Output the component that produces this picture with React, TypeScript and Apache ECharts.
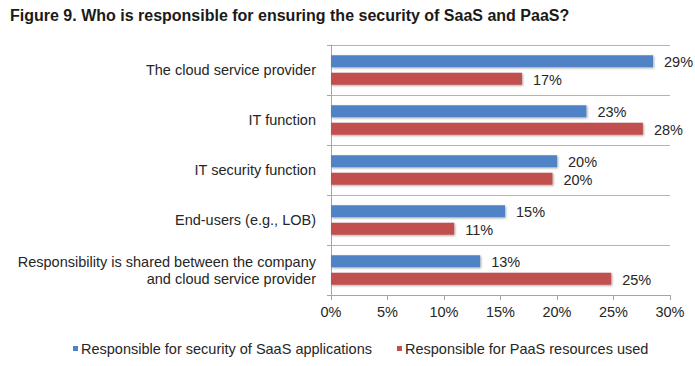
import React, { useEffect, useRef } from "react";
import * as echarts from "echarts";

const titleText = "Figure 9. Who is responsible for ensuring the security of SaaS and PaaS?";
const categories = [
  "The cloud service provider",
  "IT function",
  "IT security function",
  "End-users (e.g., LOB)",
  "Responsibility is shared between the company\nand cloud service provider",
];
const seriesNames = [
  "Responsible for security of SaaS applications",
  "Responsible for PaaS resources used",
];
const saasValues = [28.5, 22.6, 20.0, 15.4, 13.2];
const paasValues = [16.9, 27.6, 19.6, 10.9, 24.8];
const xTicks = { min: 0, max: 30, interval: 5 };

const FONT = "Liberation Sans, Arial, sans-serif";

export default function App() {
  const ref = useRef<HTMLDivElement>(null);
  useEffect(() => {
    if (!ref.current) return;
    const chart = echarts.init(ref.current, undefined, { renderer: "svg" });
    const barShadow = {
      shadowColor: "rgba(0,0,0,0.35)",
      shadowBlur: 2,
      shadowOffsetX: 1,
      shadowOffsetY: 1,
    };
    const label = {
      show: true,
      position: "right" as const,
      distance: 11,
      offset: [0, 1],
      color: "#262626",
      fontSize: 14.5,
      fontFamily: FONT,
      formatter: (p: any) => Math.round(p.value) + "%",
    };
    chart.setOption({
      animation: false,
      backgroundColor: "#ffffff",
      title: {
        text: titleText,
        left: 5,
        top: 2,
        textStyle: { fontSize: 16, fontWeight: "bold", color: "#1a1a1a", fontFamily: FONT },
      },
      legend: {
        left: 68,
        top: 336,
        icon: "rect",
        itemWidth: 5,
        itemHeight: 5,
        itemGap: 25,
        textStyle: { fontSize: 14.5, color: "#262626", fontFamily: FONT, padding: [0, 0, 0, -2] },
        data: seriesNames,
      },
      grid: { left: 331, right: 25, top: 45, bottom: 71, containLabel: false },
      xAxis: {
        type: "value",
        min: xTicks.min,
        max: xTicks.max,
        interval: xTicks.interval,
        axisLine: { show: true, lineStyle: { color: "#a6a6a6" } },
        axisTick: { show: true, length: 5, lineStyle: { color: "#a6a6a6" } },
        splitLine: { show: false },
        axisLabel: {
          formatter: "{value}%",
          fontSize: 14.5,
          color: "#262626",
          fontFamily: FONT,
          margin: 9,
        },
      },
      yAxis: {
        type: "category",
        inverse: true,
        data: categories,
        axisLine: { show: true, lineStyle: { color: "#a6a6a6" } },
        axisTick: { show: true, length: 4, lineStyle: { color: "#a6a6a6" } },
        splitLine: { show: true, lineStyle: { color: "#b3b3b3" } },
        axisLabel: {
          fontSize: 14.5,
          color: "#262626",
          fontFamily: FONT,
          margin: 15,
          lineHeight: 17,
          align: "right",
        },
      },
      series: [
        {
          name: seriesNames[0],
          type: "bar",
          data: saasValues,
          barWidth: 12,
          barGap: "45%",
          itemStyle: { color: "#4F83C6", ...barShadow },
          label,
        },
        {
          name: seriesNames[1],
          type: "bar",
          data: paasValues,
          barWidth: 12,
          itemStyle: { color: "#C0504D", ...barShadow },
          label,
        },
      ],
    });
    return () => chart.dispose();
  }, []);
  return <div ref={ref} style={{ width: 695, height: 366, position: "absolute", left: 0, top: 0 }} />;
}
